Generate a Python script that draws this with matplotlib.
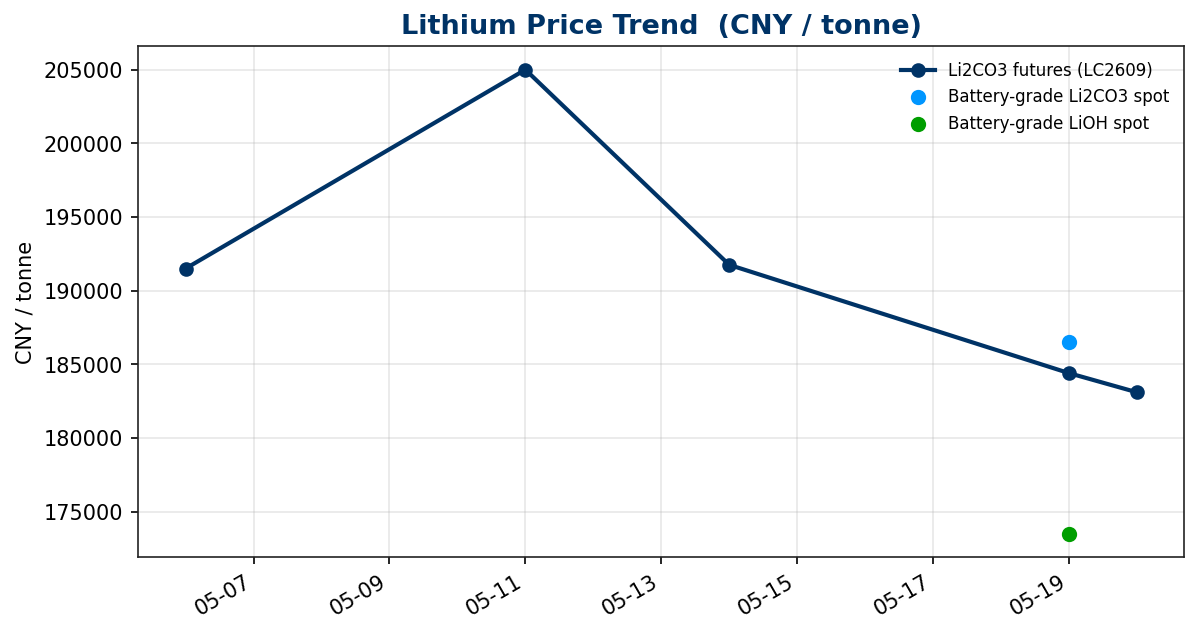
import matplotlib
matplotlib.use("Agg")
import matplotlib.pyplot as plt
import matplotlib.dates as mdates
import pandas as pd

# futures series
fut_dates = pd.to_datetime(["2026-05-06", "2026-05-11", "2026-05-14", "2026-05-19", "2026-05-20"])
fut_prices = [191500, 205000, 191750, 184400, 183100]

# spot quotes
spot_dates = pd.to_datetime(["2026-05-19"])
li2co3_spot = [186500]
lioh_spot = [173500]

navy = "#003366"

fig, ax = plt.subplots(figsize=(7.99, 4.23), dpi=150)
ax.plot(fut_dates, fut_prices, color=navy, lw=2, marker="o", ms=6,
        label="Li2CO3 futures (LC2609)", zorder=3)
ax.scatter(spot_dates, li2co3_spot, color="#0096FF", s=40,
           label="Battery-grade Li2CO3 spot", zorder=4)
ax.scatter(spot_dates, lioh_spot, color="#009E00", s=40,
           label="Battery-grade LiOH spot", zorder=4)

ax.set_title("Lithium Price Trend  (CNY / tonne)", fontsize=13,
             fontweight="bold", color=navy)
ax.set_ylabel("CNY / tonne")
ax.grid(True, alpha=0.3)
ax.xaxis.set_major_locator(mdates.DayLocator(bymonthday=range(1, 32, 2)))
ax.xaxis.set_major_formatter(mdates.DateFormatter("%m-%d"))
ax.legend(frameon=False, fontsize=8, loc="upper right")
for s in ax.spines.values():
    s.set_color("#222222")
fig.autofmt_xdate()
fig.subplots_adjust(left=0.1152, right=0.9883, top=0.926, bottom=0.1215)
fig.savefig("out.png")
